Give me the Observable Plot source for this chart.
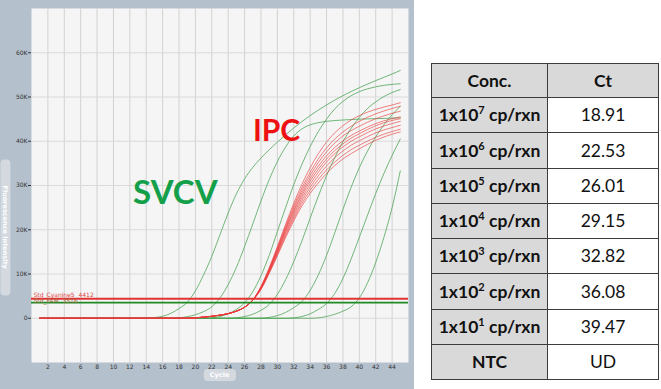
<!DOCTYPE html>
<html><head><meta charset="utf-8">
<script src="https://cdn.jsdelivr.net/npm/d3@7"></script>
<script src="https://cdn.jsdelivr.net/npm/@observablehq/plot@0.6"></script>
<style>
html,body{margin:0;padding:0;background:#fff;width:661px;height:389px;overflow:hidden;}
#chart{position:absolute;left:0;top:0;width:414px;height:389px;}
#tbl{position:absolute;left:431px;top:63px;border-collapse:collapse;font-family:Lato,sans-serif;color:#111;table-layout:fixed;}
#tbl td{border:1.5px solid #3c3c3c;text-align:center;padding:0;font-size:17.5px;line-height:1;}
#tbl td.g{background:#d9d9d9;font-weight:bold;}
#tbl td.w{background:#fff;}
#tbl sup{font-size:11px;vertical-align:0;position:relative;top:-7px;}
</style>
</head><body>
<div id="chart"></div>
<table id="tbl"></table>
<script>
// ---------- data (fluorescence in thousands of RFU) ----------
const xTicks = [2,4,6,8,10,12,14,16,18,20,22,24,26,28,30,32,34,36,38,40,42,44];
const yTicks = [0,10,20,30,40,50,60];
const thresholdNames = ["Std_Cyanine5", "Std_FAM"];
const thresholdValues = [4412, 3516];

const svcv1e7 = [[1,0],[14,0],[15,0.15],[16,0.45],[17,1.1],[18,2.2],[19,3.6],[20,6.2],[21,9.8],[22,14],[23,18.9],[24,23.8],[25,28.1],[26,31.5],[27,34.1],[28,36.2],[30,39.8],[32,43],[34,45.8],[36,48.2],[38,50.3],[40,52.1],[42,53.7],[44,55.2],[45,56]];
const svcv1e6 = [[1,0],[17,0],[18,0.1],[19,0.35],[20,0.8],[21,1.5],[22,2.6],[23,4.6],[24,7.6],[25,11.5],[26,16.2],[27,21.3],[28,26.5],[29,31.3],[30,35.4],[31,38.7],[32,41.2],[33,42.8],[34,43.7],[35,44.2],[36,44.5],[38,44.8],[40,45],[42,45.1],[45,45.3]];
const svcv1e5 = [[1,0],[21,0],[22,0.1],[23,0.4],[24,1],[25,2],[26,3.5],[27,6],[28,9.6],[29,14.2],[30,19.6],[31,25],[32,30.2],[33,34.8],[34,38.8],[35,42.2],[36,45],[37,47.3],[38,49],[39,50.3],[40,51.2],[42,52.3],[45,53]];
const svcv1e4 = [[1,0],[24,0],[25,0.1],[26,0.4],[27,0.9],[28,1.8],[29,3.1],[30,5.4],[31,8.7],[32,12.8],[33,17.5],[34,22.6],[35,27.6],[36,32.2],[37,36.3],[38,39.9],[39,42.9],[40,45.4],[41,47.4],[42,48.9],[43,50.1],[44,51],[45,51.7]];
const svcv1e3 = [[1,0],[28,0],[29,0.2],[30,0.6],[31,1.3],[32,2.4],[33,3.8],[34,6.3],[35,9.8],[36,14.2],[37,19.3],[38,24.6],[39,29.6],[40,34],[41,37.8],[42,41],[43,43.7],[44,46],[45,47.9]];
const svcv1e2 = [[1,0],[31,0],[32,0.1],[33,0.4],[34,1],[35,2],[36,3.3],[37,5.6],[38,9],[39,13.4],[40,18.3],[41,23.3],[42,28.2],[43,32.7],[44,36.8],[45,40.5]];
const svcv1e1 = [[1,0],[34,0],[35,0.1],[36,0.4],[37,0.9],[38,1.6],[39,2.6],[40,4.6],[41,8],[42,12.6],[43,18.3],[44,25],[45,33.3]];

const ipcEarly = [[1,0],[19,0],[20,0.1],[21,0.25],[22,0.45],[23,0.7],[24,1.05],[25,1.6],[26,2.5],[27,4.1]];
const ipcLate1 = [[28,7.2],[29,11.4],[30,16.2],[31,21.2],[32,26],[33,30.3],[34,34],[35,37.2],[36,39.8],[37,41.9],[38,43.5],[39,44.8],[40,45.8],[42,47.2],[44,48.2],[45,48.7]];
const ipcLate2 = [[28,7.1],[29,11.2],[30,15.9],[31,20.8],[32,25.4],[33,29.5],[34,33],[35,36],[36,38.5],[37,40.5],[38,42.1],[39,43.4],[40,44.5],[42,46.2],[44,47.4],[45,47.9]];
const ipcLate3 = [[28,7],[29,11],[30,15.6],[31,20.4],[32,24.9],[33,28.9],[34,32.3],[35,35.2],[36,37.6],[37,39.6],[38,41.2],[39,42.4],[40,43.4],[42,45.1],[44,46.3],[45,46.8]];
const ipcLate4 = [[28,6.9],[29,10.9],[30,15.4],[31,20.1],[32,24.4],[33,28.3],[34,31.6],[35,34.4],[36,36.7],[37,38.6],[38,40.1],[39,41.3],[40,42.3],[42,44],[44,45.1],[45,45.5]];
const ipcLate5 = [[28,6.9],[29,10.8],[30,15.2],[31,19.8],[32,24],[33,27.8],[34,31],[35,33.7],[36,36],[37,37.9],[38,39.4],[39,40.7],[40,41.7],[42,43.5],[44,44.7],[45,45.1]];
const ipcLate6 = [[28,6.8],[29,10.6],[30,14.9],[31,19.4],[32,23.5],[33,27.2],[34,30.3],[35,33],[36,35.3],[37,37.2],[38,38.7],[39,40],[40,41],[42,42.8],[44,44],[45,44.5]];
const ipcLate7 = [[28,6.7],[29,10.5],[30,14.7],[31,19],[32,23],[33,26.6],[34,29.6],[35,32.2],[36,34.4],[37,36.3],[38,37.8],[39,39.1],[40,40.1],[42,41.9],[44,43.1],[45,43.6]];
const ipcLate8 = [[28,6.6],[29,10.3],[30,14.4],[31,18.6],[32,22.5],[33,26],[34,28.9],[35,31.4],[36,33.5],[37,35.3],[38,36.8],[39,38.1],[40,39.1],[42,40.9],[44,42.2],[45,42.7]];
const ipcLate9 = [[28,6.5],[29,10.1],[30,14.1],[31,18.2],[32,22],[33,25.4],[34,28.2],[35,30.6],[36,32.7],[37,34.5],[38,36],[39,37.2],[40,38.3],[42,40.2],[44,41.6],[45,42.1]];

// table
const concExponents = [7,6,5,4,3,2,1];
const ctValues = [18.91, 22.53, 26.01, 29.15, 32.82, 36.08, 39.47];
const ntcLabel = "NTC";
const ntcResult = "UD";

// ---------- build ----------
const svcvCurves = [svcv1e7, svcv1e6, svcv1e5, svcv1e4, svcv1e3, svcv1e2, svcv1e1];
const ipcCurves = [ipcLate1, ipcLate2, ipcLate3, ipcLate4, ipcLate5, ipcLate6, ipcLate7, ipcLate8, ipcLate9].map(l => ipcEarly.concat(l));
const toRows = (curves, tag) => curves.flatMap((pts, i) => pts.map(([c, v]) => ({cycle: c, rfu: v, id: tag + i})));
const greenData = toRows(svcvCurves, "s");
const redData = toRows(ipcCurves, "r");
const thr = thresholdNames.map((n, i) => ({name: n, value: thresholdValues[i], k: thresholdValues[i] / 1000}));

const plot = Plot.plot({
  width: 414, height: 389,
  marginLeft: 31, marginTop: 8, marginRight: 6, marginBottom: 27,
  style: {background: "#b4c0cc", fontSize: "6px", fontFamily: "DejaVu Sans", color: "#333"},
  x: {domain: [0, 46], ticks: xTicks, tickSize: 0, tickPadding: 2, label: null},
  y: {domain: [-10, 70], ticks: yTicks, tickSize: 3, tickPadding: 1, label: null,
      tickFormat: d => d === 0 ? "0" : d + "K"},
  marks: [
    Plot.frame({fill: "#f5f5f5", stroke: null}),
    Plot.ruleX(xTicks, {stroke: "#d2d2d2", strokeWidth: 1}),
    Plot.ruleY(yTicks, {stroke: "#dadada", strokeWidth: 1}),
    Plot.line(greenData, {x: "cycle", y: "rfu", z: "id", stroke: "#46a04f", strokeWidth: 0.75, curve: "monotone-x"}),
    Plot.line(redData, {x: "cycle", y: "rfu", z: "id", stroke: "#ea3b3b", strokeWidth: 0.8, strokeOpacity: 0.8, curve: "monotone-x"}),
    Plot.ruleY([thr[0]], {y: "k", stroke: "#e33232", strokeWidth: 1.8}),
    Plot.ruleY([thr[1]], {y: "k", stroke: "#1e8a22", strokeWidth: 1.8}),
    Plot.text([thr[0]], {x: 0, y: "k", text: d => d.name + "  " + d.value, textAnchor: "start", dx: 2, dy: -4, fill: "#e04545", fontSize: 6}),
    Plot.text([thr[1]], {x: 0, y: "k", text: d => d.name + "  " + d.value, textAnchor: "start", dx: 2, dy: -2, fill: "#9a6a3a", fontSize: 6}),
    Plot.text(["SVCV"], {x: 17.55, y: 28.2, fill: "#14a04a", fontSize: 33, fontWeight: "bold", fontFamily: "Lato"}),
    Plot.text(["IPC"], {x: 29.9, y: 42.2, fill: "#ee1111", fontSize: 30, fontWeight: "bold", fontFamily: "Lato"}),
    Plot.text(["Cycle"], {x: 22.95, frameAnchor: "bottom", dy: 14.5, fill: "#ffffff", fontSize: 6.5, fontWeight: "bold"}),
    Plot.text(["Fluorescence Intensity"], {frameAnchor: "left", y: 30, dx: -26, rotate: 90, fill: "#ffffff", fontSize: 6.5, fontWeight: "bold"})
  ]
});
document.getElementById("chart").append(plot);

function pill(label, padX, padY, fill) {
  const t = [...plot.querySelectorAll("text")].find(n => n.textContent === label);
  if (!t) return;
  const b = t.getBBox();
  const r = document.createElementNS("http://www.w3.org/2000/svg", "rect");
  r.setAttribute("x", b.x - padX); r.setAttribute("y", b.y - padY);
  r.setAttribute("width", b.width + 2 * padX); r.setAttribute("height", b.height + 2 * padY);
  r.setAttribute("rx", 4); r.setAttribute("fill", fill);
  if (t.getAttribute("transform")) r.setAttribute("transform", t.getAttribute("transform"));
  t.parentNode.insertBefore(r, t);
}
pill("Cycle", 6, 2, "#d3d9df");
pill("Fluorescence Intensity", 26, 1, "#d3d9df");

// table
const tbl = document.getElementById("tbl");
let html = '<colgroup><col style="width:116px"><col style="width:111px"></colgroup>';
html += '<tr style="height:34px"><td class="g">Conc.</td><td class="g">Ct</td></tr>';
concExponents.forEach((e, i) => {
  html += `<tr style="height:35.25px"><td class="g">1x10<sup>${e}</sup> cp/rxn</td><td class="w">${ctValues[i].toFixed(2)}</td></tr>`;
});
html += `<tr style="height:35.25px"><td class="g">${ntcLabel}</td><td class="w">${ntcResult}</td></tr>`;
tbl.innerHTML = html;
</script>
</body></html>
